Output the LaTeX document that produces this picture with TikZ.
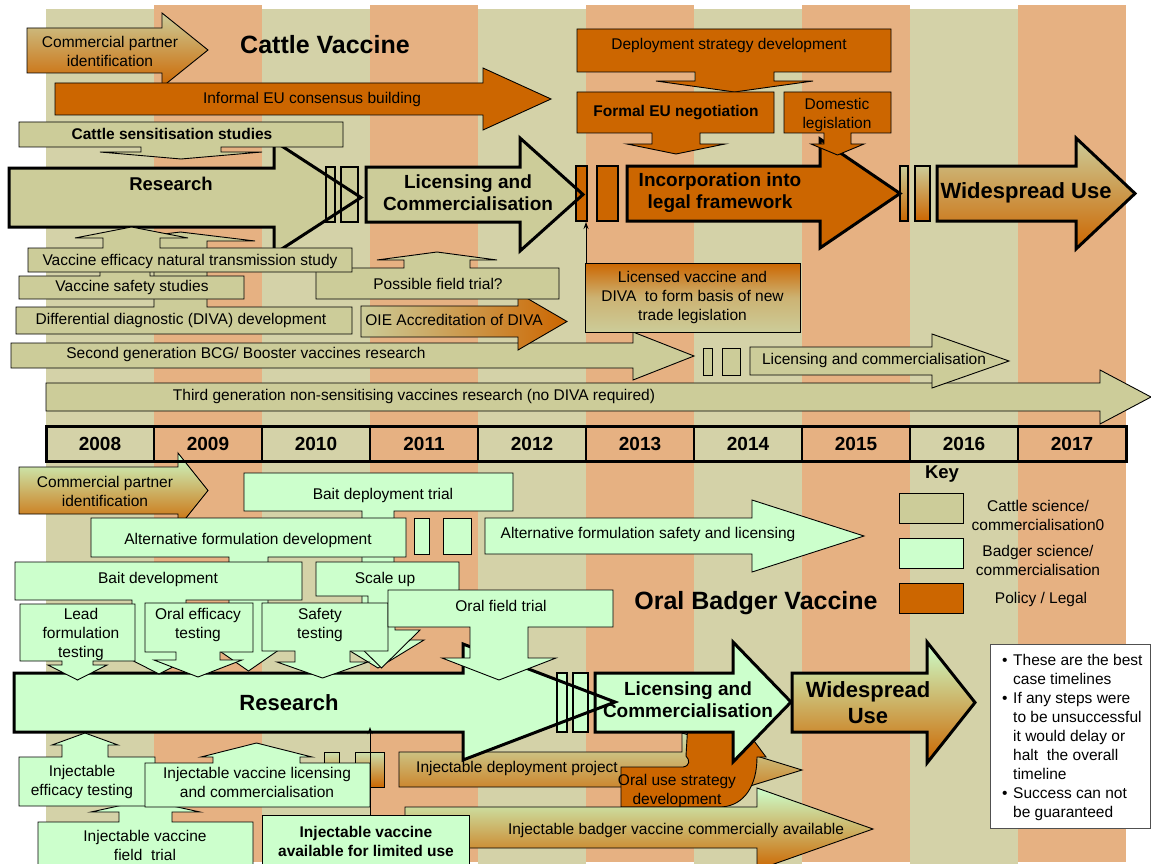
\documentclass[tikz,border=0pt]{standalone}
\usepackage{fontspec}
\setmainfont{Liberation Sans}
\usetikzlibrary{arrows.meta}
\definecolor{olivebg}{HTML}{D4D2A8}
\definecolor{salmonbg}{HTML}{E6B182}
\definecolor{cattle}{HTML}{CCCC99}
\definecolor{badger}{HTML}{CCFFCC}
\definecolor{policy}{HTML}{CC6600}
\definecolor{notegray}{HTML}{505050}
% block arrow: style, xleft, ytop, ybottom, xhead, headtop, headbottom, xtip
\newcommand{\barrow}[8]{\path[#1] (#2,#3) -- (#5,#3) -- (#5,#6) -- (#8,{(#6+#7)/2}) -- (#5,#7) -- (#5,#4) -- (#2,#4) -- cycle;}
% callout box: style, x1, x2, yfar, ynear(stem side), stem1, stem2, headbase y, tip y ; head margin \hmg
\newcommand{\callbox}[9]{\path[#1] (#2,#4) -- (#3,#4) -- (#3,#5) -- (#7,#5) -- (#7,#8) -- ({#7+\hmg},#8) -- ({(#6+#7)/2},#9) -- ({#6-\hmg},#8) -- (#6,#8) -- (#6,#5) -- (#2,#5) -- cycle;}
\newcommand{\bul}{\makebox[11pt][l]{•}}
\newcommand{\nob}{\hspace*{11pt}}
\tikzset{
  ln/.style={draw=black, line width=0.9pt},
  thk/.style={draw=black, line width=3pt},
  mid/.style={draw=black, line width=2.5pt},
  cat/.style={fill=cattle},
  bad/.style={fill=badger},
  pol/.style={fill=policy},
  gco/.style={top color=cattle, bottom color=policy},
  gbo/.style={top color=badger, bottom color=policy},
  tx/.style={font=\fontsize{15.5}{19}\selectfont, align=center, inner sep=0pt},
  tb/.style={font=\bfseries\fontsize{15.5}{19}\selectfont, align=center, inner sep=0pt},
  tbn/.style={font=\bfseries\fontsize{18.5}{21}\selectfont, align=center, inner sep=0pt},
  tbl/.style={font=\bfseries\fontsize{19}{22}\selectfont, align=center, inner sep=0pt},
  tbw/.style={font=\bfseries\fontsize{22}{26}\selectfont, align=center, inner sep=0pt},
  tbt/.style={font=\bfseries\fontsize{25}{28}\selectfont, align=center, inner sep=0pt},
}
\begin{document}
\begin{tikzpicture}[x=1pt,y=-1pt,line join=miter]
\useasboundingbox (0,0) rectangle (1151,864);
\clip (0,0) rectangle (1151,864);
\fill[white] (0,0) rectangle (1151,864);
% year stripes
\foreach \i in {0,...,9} {
  \pgfmathsetmacro{\xa}{46+108*\i}
  \pgfmathsetmacro{\xb}{154+108*\i}
  \ifodd\i \fill[salmonbg] (\xa,5) rectangle (\xb,862); \else \fill[olivebg] (\xa,9) rectangle (\xb,864); \fi
}

% ================= CATTLE =================
\barrow{ln,gco}{27}{28}{73}{162}{13}{87}{208}
\node[tx] (cpi1) at (110,51) {Commercial partner\\identification};
\barrow{ln,pol}{55}{83}{115}{483}{68}{130}{551}
\node[tx] (inf) at (312,99) {Informal EU consensus building};
\node[tbt] (ttl1) at (325,45) {Cattle Vaccine};

\def\hmg{39}
\callbox{ln,pol}{577}{891}{29}{72}{695}{774}{81}{92}
\node[tx] (dep) at (729,45) {Deployment strategy development};

% main cattle row: fills
\barrow{cat}{9}{168}{227}{274}{141}{254}{361}
\path[cat] (326,167) rectangle (335,222);
\path[cat] (341,167) rectangle (358,222);
\barrow{cat}{366}{167}{222}{520}{138}{251}{583}
\path[pol] (576,166) rectangle (587,221);
\path[pol] (597,166) rectangle (618,221);
\barrow{pol}{627}{166}{221}{820}{139}{248}{900}
\path[gco] (900,166) rectangle (908,221);
\path[gco] (915,166) rectangle (930,221);
\barrow{gco}{937}{166}{221}{1076}{138}{249}{1135}
% main cattle row: outlines
\barrow{thk}{9}{168}{227}{274}{141}{254}{361}
\path[mid] (326,167) rectangle (335,222);
\path[mid] (341,167) rectangle (358,222);
\barrow{thk}{366}{167}{222}{520}{138}{251}{583}
\path[mid] (576,166) rectangle (587,221);
\path[mid] (597,166) rectangle (618,221);
\barrow{thk}{627}{166}{221}{820}{139}{248}{900}
\path[mid] (900,166) rectangle (908,221);
\path[mid] (915,166) rectangle (930,221);
\barrow{thk}{937}{166}{221}{1076}{138}{249}{1135}

\def\hmg{25}
\callbox{ln,pol}{577}{774}{92}{133}{652}{700}{144}{154}
\node[tb] (fen) at (676,113) {Formal EU negotiation};
\def\hmg{13}
\callbox{ln,pol}{784}{891}{92}{133}{824}{851}{144}{155}
\node[tx] (dom) at (837,114.5) {Domestic\\legislation};
\def\hmg{41}
\callbox{ln,cat}{19}{343}{122}{147}{141}{221}{152}{159}
\node[tb] (sens) at (172,134) {Cattle sensitisation studies};

\node[tbn] (res1) at (171,184) {Research};
\node[tbl] (lic1) at (468,193) {Licensing and\\Commercialisation};
\node[tbl] (inc) at (720,193) {Incorporation into\\legal framework};
\node[tbw] (wide1) at (1026,193) {Widespread Use};

% lower cattle arrows
\barrow{ln,cat}{46}{383}{411}{1100}{370}{424}{1151}
\node[tx] (third) at (414,396) {Third generation non-sensitising vaccines research (no DIVA required)};
\barrow{ln,cat}{11}{343}{368}{633}{332}{380}{694}
\node[tx] (second) at (246,354) {Second generation BCG/ Booster vaccines research};
\path[ln,cat] (703,348) rectangle (712,375);
\path[ln,cat] (722,348) rectangle (740,375);
\barrow{ln,cat}{750}{347}{375}{932}{334}{388}{1009}
\node[tx] (licsm) at (874,360) {Licensing and commercialisation};
\barrow{ln,left color=cattle,right color=policy}{361}{306}{337}{518}{293}{350}{567}
\node[tx] (oie) at (454,320) {OIE Accreditation of DIVA};
\def\hmg{27}
\callbox{ln,cat}{316}{559}{299}{268}{404}{470}{260}{252}
\node[tx] (pos) at (438,284) {Possible field trial?};
\node[ln,tx,top color=policy,bottom color=cattle,middle color=cattle!75!policy,minimum width=215pt,minimum height=69pt] (lic) at (692.5,297.5) {Licensed vaccine and\\DIVA\ \ to form basis of new\\trade legislation};
\coordinate (licup) at (586,263);
\coordinate (brk) at (586,222);
\draw[line width=1pt,-{Stealth[length=7pt,width=5pt]}] (licup) -- (brk);

\def\hmg{48}
\callbox{ln,cat}{16}{352}{334}{307}{154}{207}{241}{232}
\def\hmg{20}
\callbox{ln,cat}{19}{244}{299}{276}{100}{150}{265}{255}
\def\hmg{28}
\callbox{ln,cat}{28}{352}{272}{248}{103}{160}{238}{227}
\node[tx] (eff) at (190,261) {Vaccine efficacy natural transmission study};
\node[tx] (saf) at (132,287) {Vaccine safety studies};
\node[tx] (diva) at (181,320) {Differential diagnostic (DIVA) development};

% ================= BADGER =================
\barrow{ln,gbo}{19}{467}{514}{178}{453}{528}{208}
\node[tx] (cpi2) at (105,491) {Commercial partner\\identification};

% timeline
\foreach \k in {1,...,9} { \draw[line width=1.5pt] ({46+108*\k},426) -- ({46+108*\k},461); }
\draw[line width=3pt] (46,426) rectangle (1126,461);
\foreach \k/\yr in {0/2008,1/2009,2/2010,3/2011,4/2012,5/2013,6/2014,7/2015,8/2016,9/2017} {
  \node[tbl] (y\yr) at ({100+108*\k},444) {\yr};
}

% lower badger items
\barrow{ln,top color=badger!40!cattle,bottom color=policy}{399}{752}{787}{682}{733}{807}{802}
\path[ln,top color=badger!40!cattle,bottom color=policy] (324,752) rectangle (339,787);
\path[ln,top color=badger!40!cattle,bottom color=policy] (355,752) rectangle (384,787);
\node[tx] (injdep) at (517,768) {Injectable deployment project};
\path[ln,pol] (621,767) -- (683,767) .. controls (690,766) and (690,760) .. (686,756) -- (688,722) -- (740,722) -- (766,757) -- (757,757) .. controls (757,785) and (745,805) .. (722,807) -- (621,807) -- cycle;
\node[tx] (oraluse) at (677,791) {Oral use strategy\\development};
\barrow{ln,gbo}{405}{807}{848}{757}{788}{870}{873}
\node[tx] (injbad) at (676,830) {Injectable badger vaccine commercially available};

% main badger row: fills
\barrow{bad}{595}{673}{732}{733}{642}{762}{791}
\barrow{gbo}{792}{673}{732}{927}{642}{763}{975}
\path[bad] (557,673) rectangle (567,732);
\path[bad] (573,673) rectangle (588,732);
\barrow{bad}{14}{673}{732}{463}{644}{760}{615}
% outlines
\barrow{thk}{595}{673}{732}{733}{642}{762}{791}
\barrow{thk}{792}{673}{732}{927}{642}{763}{975}
\path[mid] (557,673) rectangle (567,732);
\path[mid] (573,673) rectangle (588,732);
\barrow{thk}{14}{673}{732}{463}{644}{760}{615}
\node[tbl] (lic2) at (688,700) {Licensing and\\Commercialisation};
\node[tbw] (wide2) at (868,703) {Widespread\\Use};

% down callouts above research
\def\hmg{30}
\callbox{ln,bad}{244}{513}{473}{511}{362}{394}{640}{668}
\def\hmg{18}
\callbox{ln,bad}{91}{406}{518}{557}{229}{268}{645}{671}
\def\hmg{20}
\callbox{ln,bad}{15}{302}{562}{600}{132}{186}{650}{674}
\def\hmg{25}
\callbox{ln,bad}{316}{459}{562}{596}{368}{395}{630}{668}
\def\hmg{14}
\callbox{ln,bad}{20}{135}{604}{661}{62}{93}{665}{680}
\def\hmg{22}
\callbox{ln,bad}{145}{253}{603}{652}{176}{220}{660}{677}
\def\hmg{18}
\callbox{ln,bad}{262}{388}{603}{651}{295}{350}{662}{678}
\def\hmg{28}
\callbox{ln,bad}{388}{613}{590}{627}{470}{528}{658}{680}
\node[tx] (baitdep) at (383,495) {Bait deployment trial};
\node[tx] (altdev) at (248,540) {Alternative formulation development};
\node[tx] (baitdev) at (158,579) {Bait development};
\node[tx] (scale) at (385,579) {Scale up};
\node[tx] (lead) at (81,634) {Lead\\formulation\\testing};
\node[tx] (oeff) at (198,625) {Oral efficacy\\testing};
\node[tx] (safet) at (320,625) {Safety\\testing};
\node[tx] (ofield) at (501,606) {Oral field trial};
\node[tbw] (res2) at (289,703) {Research};

\path[ln,bad] (414,518) rectangle (429,554);
\path[ln,bad] (443,518) rectangle (471,554);
\barrow{ln,bad}{485}{518}{554}{752}{500}{572}{864}
\node[tx] (altsaf) at (648,534) {Alternative formulation safety and licensing};

% up callouts below research
\def\hmg{28}
\callbox{ln,bad}{38}{253}{876}{822}{119}{172}{812}{800}
\def\hmg{10}
\callbox{ln,bad}{19}{155}{806}{757}{62}{108}{745}{733}
\def\hmg{12}
\callbox{ln,bad}{145}{370}{807}{763}{213}{300}{757}{743}
\path[ln,bad] (262,815) rectangle (469,876);
\node[tx] (injeff) at (82,782) {Injectable\\efficacy testing};
\node[tx] (injlic) at (257,782) {Injectable vaccine licensing\\and commercialisation};
\node[tx] (injfld) at (145,845) {Injectable vaccine\\field\ \ trial};
\node[tb] (injlim) at (366,841) {Injectable vaccine\\available for limited use};
\coordinate (limtop) at (370,815);
\coordinate (resbot) at (370,727);
\draw[line width=1pt,-{Stealth[length=7pt,width=5pt]}] (limtop) -- (resbot);

% title, key, note
\node[tbt] (ttl2) at (756,603) {Oral Badger Vaccine};
\node[tbn] (key) at (942,474) {Key};
\path[ln,cat] (899,493) rectangle (963,523);
\path[ln,bad] (899,538) rectangle (963,568);
\path[ln,pol] (899,583) rectangle (963,613);
\node[tx] (k1) at (1038,515.5) {Cattle science/\\commercialisation0};
\node[tx] (k2) at (1038,560.5) {Badger science/\\commercialisation};
\node[tx] (k3) at (1041,599) {Policy / Legal};

\path[fill=white,draw=notegray,line width=1pt] (990,644) rectangle (1150.5,828);
\node[anchor=north west,align=left,inner sep=0pt,font=\fontsize{15.5}{19}\selectfont] (note) at (1002,654)
 {\bul These are the best\\\nob case timelines\\\bul If any steps were\\\nob to be unsuccessful\\\nob it would delay or\\\nob halt\ \ the overall\\\nob timeline\\\bul Success can not\\\nob be guaranteed};
\end{tikzpicture}
\end{document}
